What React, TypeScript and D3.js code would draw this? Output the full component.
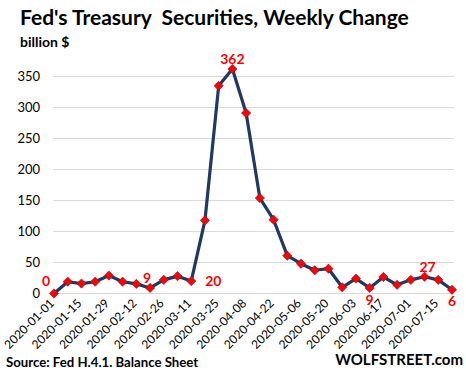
import React from "react";
import * as d3 from "d3";

const dates = [
  "2020-01-01","2020-01-08","2020-01-15","2020-01-22","2020-01-29","2020-02-05",
  "2020-02-12","2020-02-19","2020-02-26","2020-03-04","2020-03-11","2020-03-18",
  "2020-03-25","2020-04-01","2020-04-08","2020-04-15","2020-04-22","2020-04-29",
  "2020-05-06","2020-05-13","2020-05-20","2020-05-27","2020-06-03","2020-06-10",
  "2020-06-17","2020-06-24","2020-07-01","2020-07-08","2020-07-15","2020-07-22",
];
const values = [
  0, 19, 16, 19, 29, 19, 15.5, 9, 22, 28, 20, 118,
  335, 362, 291, 154, 119, 61, 48, 37.5, 40, 10, 24, 9,
  26.6, 14, 22, 27, 22, 6,
];
const yTicks = [0, 50, 100, 150, 200, 250, 300, 350];
const tickLabels = dates.filter((_, i) => i % 2 === 0);
// annotated points: index, label text, offset from point (dx, dy of baseline), anchor
const annotations = [
  { i: 0, text: "0", dx: -8, dy: -7.5, anchor: "middle" },
  { i: 7, text: "9", dx: -3, dy: -5, anchor: "middle" },
  { i: 10, text: "20", dx: 14, dy: 5, anchor: "start" },
  { i: 13, text: "362", dx: 0, dy: -5, anchor: "middle" },
  { i: 23, text: "9", dx: 0, dy: 17, anchor: "middle" },
  { i: 27, text: "27", dx: 3, dy: -4.5, anchor: "middle" },
  { i: 29, text: "6", dx: 0, dy: 16.5, anchor: "middle" },
];

const FONT = "Lato, 'Open Sans', sans-serif";

export default function App() {
  const W = 466, H = 376;
  const x = d3.scalePoint<string>().domain(dates).range([54, 452]);
  const y = d3.scaleLinear().domain([0, 350]).range([293.5, 76.5]);
  const line = d3
    .line<number>()
    .x((_, i) => x(dates[i])!)
    .y((d) => y(d));
  const diamond = d3.symbol().type(d3.symbolDiamond2).size(55)();

  return (
    <svg
      width={W}
      height={H}
      style={{ position: "absolute", left: 0, top: 0, background: "#fff" }}
      fontFamily={FONT}
    >
      <text x={20} y={25} fontSize={21} fontWeight="bold" fill="#000" style={{ whiteSpace: "pre" }}>
        {"Fed's Treasury  Securities, Weekly Change"}
      </text>
      <text x={20} y={47} fontSize={14} fontWeight="bold" fill="#000">
        billion $
      </text>

      {yTicks.map((t) => (
        <g key={t}>
          <line x1={53} x2={454} y1={y(t)} y2={y(t)} stroke="#d9d9d9" strokeWidth={1} />
          <text x={40} y={y(t)} dy="0.35em" textAnchor="end" fontSize={13} fill="#000">
            {t}
          </text>
        </g>
      ))}

      {tickLabels.map((d) => (
        <text
          key={d}
          transform={`translate(${x(d)! + 1},${304}) rotate(-45)`}
          textAnchor="end"
          fontSize={12}
          fill="#000"
        >
          {d}
        </text>
      ))}

      <path d={line(values)!} fill="none" stroke="#203864" strokeWidth={3.2} strokeLinejoin="round" />
      {values.map((v, i) => (
        <path
          key={i}
          d={diamond!}
          transform={`translate(${x(dates[i])},${y(v)})`}
          fill="#ff0000"
          stroke="#7a1a2a"
          strokeWidth={0.6}
        />
      ))}

      {annotations.map((a) => (
        <text
          key={a.i}
          x={x(dates[a.i])! + a.dx}
          y={y(values[a.i]) + a.dy}
          textAnchor={a.anchor as any}
          fontSize={14}
          fontWeight="bold"
          fill="#ff0000"
        >
          {a.text}
        </text>
      ))}

      <text x={6} y={367} fontSize={13.2} fontWeight="bold" fill="#000">
        Source: Fed H.4.1. Balance Sheet
      </text>
      <text x={463} y={365} textAnchor="end" fontSize={15} fontWeight="bold" fill="#000">
        WOLFSTREET.com
      </text>
    </svg>
  );
}
